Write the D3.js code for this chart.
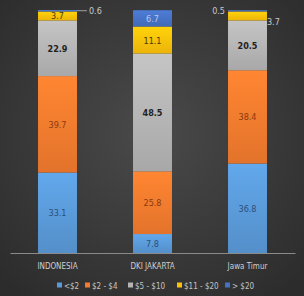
<!DOCTYPE html>
<html>
<head>
<meta charset="utf-8">
<script src="https://cdn.jsdelivr.net/npm/d3@7"></script>
<style>
    body { margin: 0; background: #333; }
    svg { display: block; }
</style>
</head>
<body>
<div id="chart"></div>
<script>
const categories = ["INDONESIA", "DKI JAKARTA", "Jawa Timur"];
const seriesNames = ["<$2", "$2 - $4", "$5 - $10", "$11 - $20", "> $20"];
const under2 = [33.1, 7.8, 36.8];
const from2to4 = [39.7, 25.8, 38.4];
const from5to10 = [22.9, 48.5, 20.5];
const from11to20 = [3.7, 11.1, 3.7];
const over20 = [0.6, 6.7, 0.5];

const colors = ["#5a9ad8", "#f47b2e", "#b4b4b4", "#fdc10a", "#4672c6"];
const labelColors = ["#2d4f7a", "#8a3a10", "#222222", "#4a3a00", "#b8c8ec"];
const font = "'DejaVu Sans Condensed', 'Liberation Sans Narrow', 'Liberation Sans', sans-serif";

const width = 304, height = 296;
const margin = { top: 10, right: 9, bottom: 43, left: 10 };

const svg = d3.select("#chart")
    .append("svg")
    .attr("width", width)
    .attr("height", height)
    .style("font-family", font);

// dark photographed background
const defs = svg.append("defs");
const bg = defs.append("radialGradient").attr("id", "bg").attr("cx", "50%").attr("cy", "45%").attr("r", "70%");
bg.append("stop").attr("offset", "0%").attr("stop-color", "#4a4a4a");
bg.append("stop").attr("offset", "100%").attr("stop-color", "#2c2c2c");
svg.append("rect").attr("width", width).attr("height", height).attr("fill", "url(#bg)");

// soft vertical gradient for each series
colors.forEach((c, i) => {
    const lg = defs.append("linearGradient").attr("id", "g" + i)
        .attr("x1", 0).attr("y1", 0).attr("x2", 0).attr("y2", 1);
    lg.append("stop").attr("offset", "0%").attr("stop-color", d3.color(c).brighter(0.25));
    lg.append("stop").attr("offset", "100%").attr("stop-color", d3.color(c).darker(0.2));
});

const rows = categories.map((cat, i) => ({
    cat,
    values: [under2[i], from2to4[i], from5to10[i], from11to20[i], over20[i]]
}));

const x = d3.scaleBand()
    .domain(categories)
    .range([margin.left, width - margin.right])
    .paddingInner(0.59)
    .paddingOuter(0.295);

const y = d3.scaleLinear()
    .domain([0, 100])
    .range([height - margin.bottom, margin.top]);

const stack = d3.stack()
    .keys(d3.range(seriesNames.length))
    .value((d, k) => d.values[k]);
const layers = stack(rows);

const g = svg.append("g");

layers.forEach((layer, k) => {
    g.selectAll(".bar" + k)
        .data(layer)
        .enter()
        .append("rect")
        .attr("x", d => x(d.data.cat))
        .attr("y", d => y(d[1]))
        .attr("width", x.bandwidth())
        .attr("height", d => y(d[0]) - y(d[1]))
        .attr("fill", "url(#g" + k + ")");
});

// value labels
layers.forEach((layer, k) => {
    layer.forEach((d, i) => {
        const v = d[1] - d[0];
        const cx = x(d.data.cat) + x.bandwidth() / 2;
        const cy = y((d[0] + d[1]) / 2);
        if (v < 1) {
            // tiny segment: label outside with leader line
            const left = i === 2;
            const bx = left ? x(d.data.cat) : x(d.data.cat) + x.bandwidth();
            if (!left) {
                g.append("line")
                    .attr("x1", bx).attr("x2", bx + 10)
                    .attr("y1", cy).attr("y2", cy)
                    .attr("stroke", "#bbbbbb").attr("stroke-width", 0.8);
            }
            g.append("text")
                .attr("x", left ? bx - 3 : bx + 12)
                .attr("y", cy + 1)
                .attr("text-anchor", left ? "end" : "start")
                .attr("dominant-baseline", "middle")
                .attr("font-size", 9)
                .attr("fill", "#c8c8c8")
                .text(v.toFixed(1));
        } else if (k === 3 && i === 2) {
            // Jawa Timur 3.7 sits outside on the right
            g.append("text")
                .attr("x", x(d.data.cat) + x.bandwidth())
                .attr("y", cy + 7)
                .attr("dominant-baseline", "middle")
                .attr("font-size", 9)
                .attr("fill", "#c8c8c8")
                .text(v.toFixed(1));
        } else {
            g.append("text")
                .attr("x", cx)
                .attr("y", cy + 1)
                .attr("text-anchor", "middle")
                .attr("dominant-baseline", "middle")
                .attr("font-size", 9)
                .attr("font-weight", k === 2 ? "bold" : "normal")
                .attr("fill", labelColors[k])
                .text(v.toFixed(1));
        }
    });
});

// x axis
const axis = svg.append("g")
    .attr("transform", `translate(0,${y(0)})`)
    .call(d3.axisBottom(x).tickSize(0).tickPadding(10));
axis.select(".domain").attr("stroke", "#8a8a8a").attr("stroke-width", 1);
axis.selectAll("text")
    .attr("fill", "#cfcfcf")
    .attr("font-size", 8)
    .style("font-family", font);

// legend
const legendX = [57, 85, 128, 177, 225];
const legend = svg.append("g").attr("transform", `translate(0,${height - 10})`);
seriesNames.forEach((name, k) => {
    legend.append("rect")
        .attr("x", legendX[k])
        .attr("y", -3.5)
        .attr("width", 5)
        .attr("height", 5)
        .attr("fill", colors[k]);
    legend.append("text")
        .attr("x", legendX[k] + 7)
        .attr("y", 0)
        .attr("dominant-baseline", "middle")
        .attr("font-size", 8)
        .attr("fill", "#c4c4c4")
        .text(name);
});
</script>
</body>
</html>
